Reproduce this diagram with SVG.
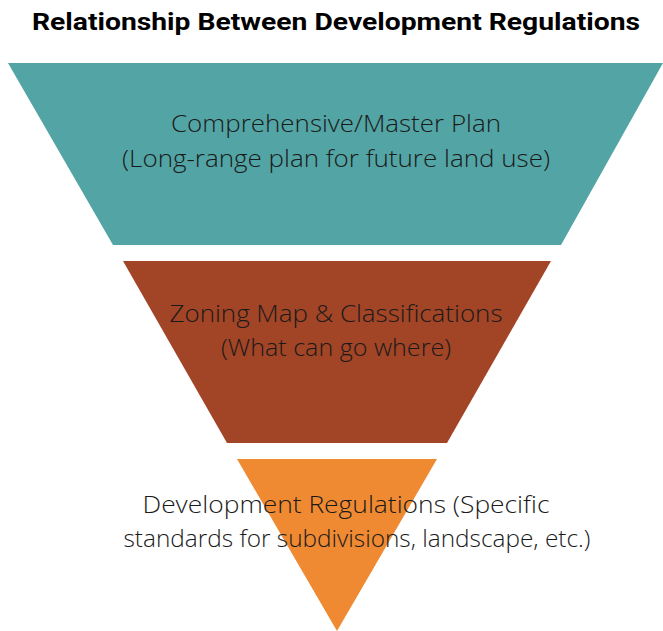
<svg xmlns="http://www.w3.org/2000/svg" width="663" height="631" viewBox="0 0 663 631">
<style>
.title{font-family:Roboto,"Liberation Sans",sans-serif;font-weight:700;font-size:23px;fill:#000}
.lbl{font-family:"Open Sans","Noto Sans","Liberation Sans",sans-serif;font-weight:300;font-size:24px;fill:#1a1a1a;text-anchor:middle}
</style>
<rect width="663" height="631" fill="#fff"/>
<text class="title" x="32" y="30" textLength="608" lengthAdjust="spacingAndGlyphs">Relationship Between Development Regulations</text>
<g id="comprehensive-plan">
<polygon points="8,63 663,63 561,245 113,245" fill="#53A4A4"/>
<text class="lbl" x="336" y="132" textLength="330" lengthAdjust="spacingAndGlyphs">Comprehensive/Master Plan</text>
<text class="lbl" x="336" y="167" textLength="428" lengthAdjust="spacingAndGlyphs">(Long-range plan for future land use)</text>
</g>
<g id="zoning-map">
<polygon points="123,261 551,261 447,443 227,443" fill="#A24426"/>
<text class="lbl" x="336" y="322" textLength="333" lengthAdjust="spacingAndGlyphs">Zoning Map &amp; Classifications</text>
<text class="lbl" x="336" y="356" textLength="230" lengthAdjust="spacingAndGlyphs">(What can go where)</text>
</g>
<g id="development-regulations">
<polygon points="237,459 437,459 337,631" fill="#F08A32"/>
<text class="lbl" x="346" y="513" textLength="407" lengthAdjust="spacingAndGlyphs">Development Regulations (Specific</text>
<text class="lbl" x="357" y="547" textLength="467" lengthAdjust="spacingAndGlyphs">standards for subdivisions, landscape, etc.)</text>
</g>
</svg>
